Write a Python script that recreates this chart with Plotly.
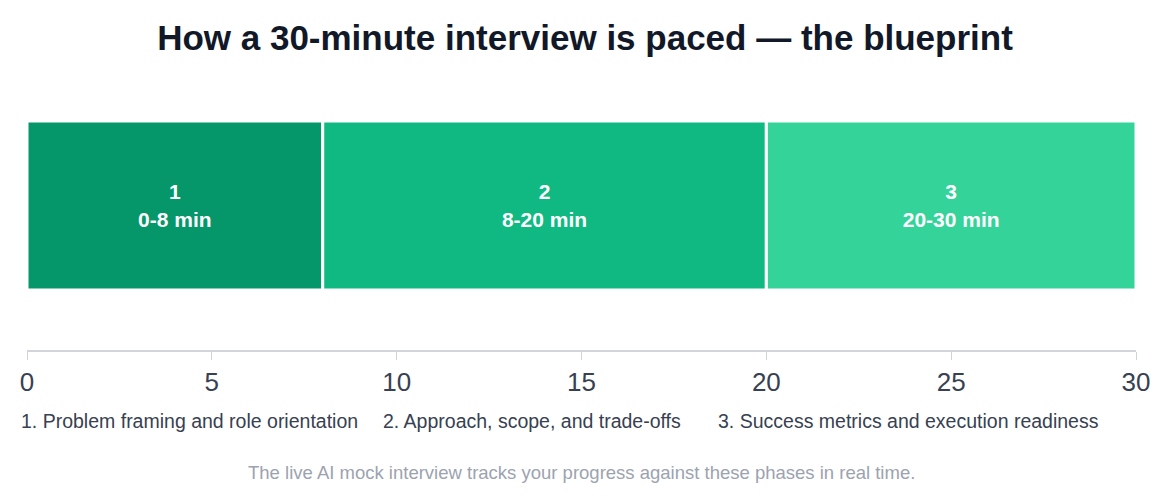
import plotly.graph_objects as go

phases = ["1", "2", "3"]
starts = [0, 8, 20]
durations = [8, 12, 10]
ranges = ["0-8 min", "8-20 min", "20-30 min"]
phase_names = ["1. Problem framing and role orientation",
               "2. Approach, scope, and trade-offs",
               "3. Success metrics and execution readiness"]
colors = ["#059669", "#10b981", "#34d399"]

fig = go.Figure()
for p, s, d, r, c in zip(phases, starts, durations, ranges, colors):
    fig.add_trace(go.Bar(
        x=[d], y=[0], base=[s], orientation="h", width=0.676,
        marker=dict(color=c, line=dict(color="white", width=3)),
        text=[f"<b>{p}<br>{r}</b>"], textposition="inside", insidetextanchor="middle",
        textfont=dict(color="white", size=21), showlegend=False, hoverinfo="skip"))

# phase labels under the axis
label_x = [16, 380, 716]
for name, lx in zip(phase_names, label_x):
    fig.add_annotation(text=name, xref="paper", yref="paper",
                       x=(lx - 24) / 1114, y=-0.284, xanchor="left", yanchor="middle",
                       showarrow=False, font=dict(size=19.5, color="#374151"))

fig.add_annotation(text="The live AI mock interview tracks your progress against these phases in real time.",
                   xref="paper", yref="paper", x=0.5, y=-0.488, xanchor="center", yanchor="middle",
                   showarrow=False, font=dict(size=18.5, color="#9ca3af"))

fig.update_layout(
    title=dict(text="<b>How a 30-minute interview is paced — the blueprint</b>",
               x=0.5, y=0.938, xanchor="center", yanchor="middle",
               font=dict(size=35, color="#111827")),
    font=dict(family="Liberation Sans, Arial, sans-serif"),
    width=1154, height=483,
    margin=dict(l=16, r=24, t=92, b=141),
    paper_bgcolor="white", plot_bgcolor="white",
    barmode="overlay",
    xaxis=dict(range=[0, 30], tickvals=[0, 5, 10, 15, 20, 25, 30], showgrid=False, zeroline=False,
               showline=True, linecolor="#d1d5db", linewidth=1.5, ticks="outside", ticklen=8,
               tickcolor="#d1d5db", tickfont=dict(size=26, color="#374151")),
    yaxis=dict(range=[-0.578, 0.422], visible=False),
)

fig.write_html("out.html")
